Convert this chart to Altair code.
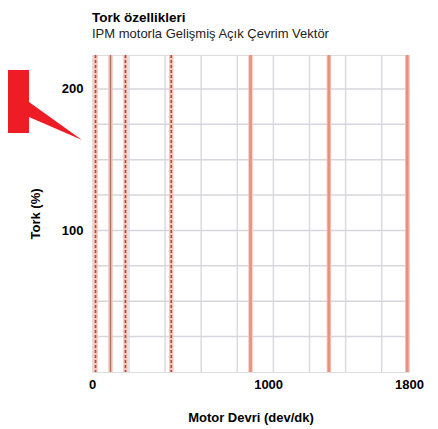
import altair as alt
import pandas as pd

# --- data ---
speeds = [20, 105, 190, 450, 900, 1345, 1790]          # Motor Devri (dev/dk) of each torque curve
styles = ["kesikli", "ince", "kesikli", "kesikli", "düz", "düz", "düz"]
x_ticks = [0, 1000, 1800]
y_ticks = [100, 200]
x_grid = [210, 415, 620, 825, 1030, 1235, 1440, 1645]
y_grid = [25, 50, 75, 100, 125, 150, 175, 200]

FONT = "Liberation Sans, Arial, Helvetica, sans-serif"

curves = pd.DataFrame({"devir": speeds, "stil": styles})
gx = pd.DataFrame({"devir": x_grid})
gy = pd.DataFrame({"tork": y_grid})

xs = alt.Scale(domain=[0, 1800], nice=False, zero=False)
ys = alt.Scale(domain=[0, 224], nice=False)

x_axis = alt.Axis(values=x_ticks, format="d", grid=False, ticks=False, domain=False,
                  labelFont=FONT, labelFontSize=13, labelFontWeight="bold",
                  labelColor="black", labelPadding=6, labelFlush=False,
                  title="Motor Devri (dev/dk)", titleFont=FONT, titleFontSize=13,
                  titleFontWeight="bold", titleColor="black", titlePadding=20)
y_axis = alt.Axis(values=y_ticks, format="d", grid=False, ticks=False, domain=False,
                  labelFont=FONT, labelFontSize=13, labelFontWeight="bold",
                  labelColor="black", labelPadding=9,
                  title="Tork (%)", titleFont=FONT, titleFontSize=13,
                  titleFontWeight="bold", titleColor="black", titlePadding=19)

grid_x = alt.Chart(gx).mark_rule(color="#dadae2", strokeWidth=1.5).encode(
    x=alt.X("devir:Q", scale=xs, axis=x_axis)
)
grid_y = alt.Chart(gy).mark_rule(color="#d6d6dd", strokeWidth=1.5).encode(
    y=alt.Y("tork:Q", scale=ys, axis=y_axis)
)

halo = alt.Chart(curves).mark_rule(color="#f6c4b8", strokeWidth=4.5).encode(
    x=alt.X("devir:Q", scale=xs)
)
dashed = alt.Chart(curves).transform_filter(alt.datum.stil == "kesikli").mark_rule(
    color="#b5473f", strokeWidth=1.6, strokeDash=[3, 2]
).encode(x=alt.X("devir:Q", scale=xs))
thin = alt.Chart(curves).transform_filter(alt.datum.stil == "ince").mark_rule(
    color="#ad7565", strokeWidth=1.3
).encode(x=alt.X("devir:Q", scale=xs))
solid = alt.Chart(curves).transform_filter(alt.datum.stil == "düz").mark_rule(
    color="#e79180", strokeWidth=2.6
).encode(x=alt.X("devir:Q", scale=xs))

# decorative red callout pointer at the left
callout_path = ("M -1 -0.854 L -0.293 -0.854 L -0.293 -0.073 L 1 0.854 "
                "L -0.293 0.293 L -0.293 0.683 L -1 0.683 Z")
callout = alt.Chart(pd.DataFrame({"k": [0]})).mark_point(
    shape=callout_path, filled=True, color="#ee1c25", opacity=1,
    size=6724, strokeWidth=0
).encode(x=alt.value(-51), y=alt.value(50))

chart = alt.layer(grid_x, grid_y, halo, dashed, thin, solid, callout).properties(
    width=317, height=317,
    title=alt.TitleParams(
        text="Tork özellikleri",
        subtitle="IPM motorla Gelişmiş Açık Çevrim Vektör",
        anchor="start", frame="group", font=FONT, fontSize=13.5, fontWeight="bold",
        color="black", subtitleFont=FONT, subtitleFontSize=13, subtitleColor="#222",
        subtitlePadding=3, offset=12
    ),
    autosize=alt.AutoSizeParams(type="none"),
    padding={"left": 84, "top": 47, "right": 21, "bottom": 57}
).configure_view(stroke="#333", strokeWidth=1.6).configure(background="white")

chart.save("out.html", embed_options={"renderer": "svg", "actions": False})
